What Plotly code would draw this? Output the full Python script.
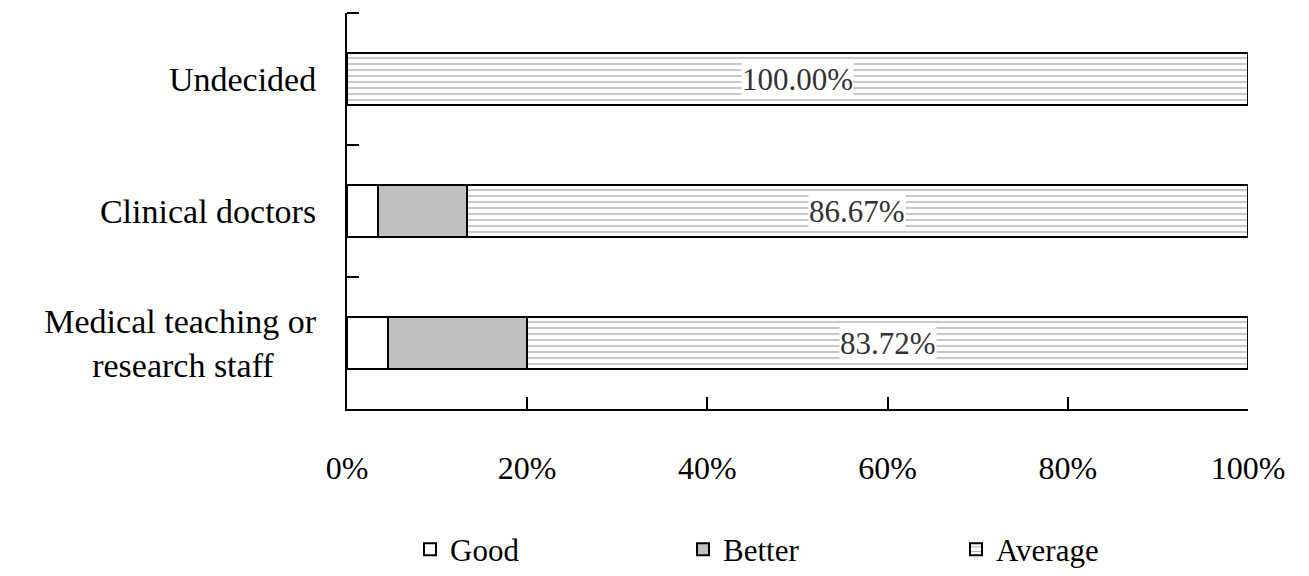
import plotly.graph_objects as go

categories = ["Medical teaching or<br>research staff" + "\u00a0" * 5, "Clinical doctors", "Undecided"]
cat_keys = ["Medical", "Clinical", "Undecided"]
good = [4.5, 3.4, 0.0]
better = [15.5, 9.9, 0.0]
average = [80.0, 86.7, 100.0]
avg_labels = ["83.72%", "86.67%", "100.00%"]
x_ticks = [0, 20, 40, 60, 80, 100]

serif = "Liberation Serif, Times New Roman, serif"
line = dict(color="black", width=2)

fig = go.Figure()
fig.add_trace(go.Bar(y=cat_keys, x=good, orientation="h", name="Good",
                     marker=dict(color="white", line=line)))
fig.add_trace(go.Bar(y=cat_keys, x=better, orientation="h", name="Better",
                     marker=dict(color="#c0c0c0", line=line)))
fig.add_trace(go.Bar(y=cat_keys, x=average, orientation="h", name="Average",
                     marker=dict(color="white", line=line,
                                 pattern=dict(shape="-", fgcolor="#444444", bgcolor="white",
                                              size=6, solidity=0.2))))

for k, g, b, a, lab in zip(cat_keys, good, better, average, avg_labels):
    fig.add_annotation(x=g + b + a / 2, y=k, text=lab, showarrow=False,
                       font=dict(family=serif, size=31, color="#333333"),
                       bgcolor="white", borderpad=0)

# top boundary tick of the category axis
fig.add_shape(type="line", xref="paper", yref="paper", x0=0, x1=12 / 901, y0=1, y1=1,
              line=dict(color="black", width=2))

fig.update_layout(
    width=1309, height=576,
    barmode="stack", bargap=0.6,
    paper_bgcolor="white", plot_bgcolor="white",
    margin=dict(l=339, r=69, t=5, b=175),
    font=dict(family=serif, size=30, color="black"),
    legend=dict(orientation="h", x=(402 - 339) / 901, xanchor="left", y=-0.355, yanchor="middle",
                entrywidth=228, entrywidthmode="pixels", traceorder="normal",
                font=dict(family=serif, size=31, color="black")),
    showlegend=True,
)
fig.update_xaxes(range=[0, 100], tickvals=x_ticks, ticktext=[f"{v}%" for v in x_ticks],
                 ticks="inside", ticklen=12, tickwidth=2, tickcolor="black",
                 showline=True, linecolor="black", linewidth=2, showgrid=False,
                 zeroline=False, ticklabelstandoff=30,
                 tickfont=dict(family=serif, size=32))
fig.update_yaxes(categoryorder="array", categoryarray=cat_keys,
                 tickvals=cat_keys, ticktext=categories,
                 range=[-0.5, 2.5], tickson="boundaries",
                 ticks="inside", ticklen=12, tickwidth=2, tickcolor="black",
                 showline=True, linecolor="black", linewidth=2, showgrid=False,
                 ticklabelstandoff=22,
                 tickfont=dict(family=serif, size=34))

fig.write_html("out.html")
